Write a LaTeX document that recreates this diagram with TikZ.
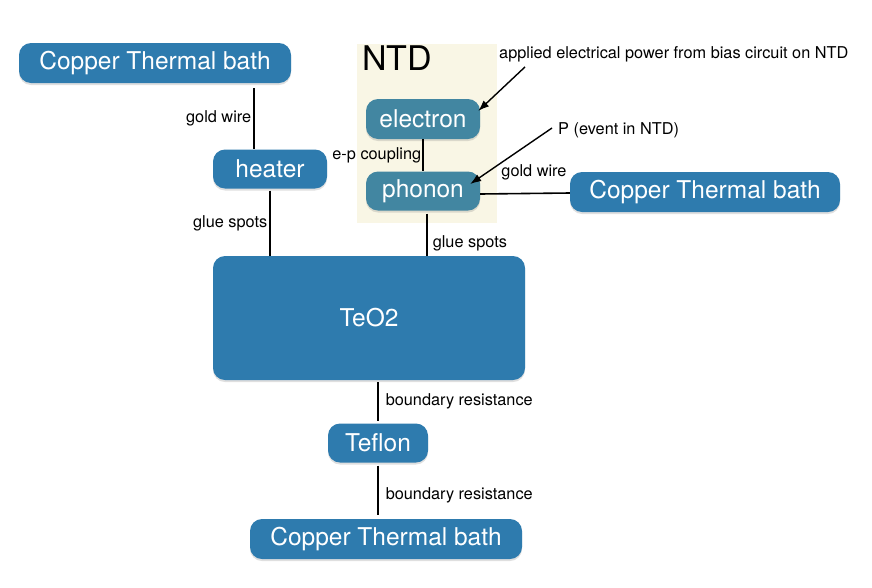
\documentclass[tikz,border=0pt]{standalone}
\usepackage{fontspec}
\setmainfont{TeX Gyre Heros}
\usepackage{tikz}
\usetikzlibrary{shadows,arrows.meta}
\definecolor{bathblue}{RGB}{46,123,174}
\definecolor{ntdblue}{RGB}{66,134,161}
\definecolor{ntdbg}{RGB}{249,246,229}
\tikzset{
    blk/.style={fill=bathblue, text=white, rounded corners=12pt, inner sep=0pt,
        minimum height=40pt, font=\fontsize{24.5}{26}\selectfont,
        drop shadow={shadow xshift=0pt, shadow yshift=-2pt, opacity=0.25}},
    ntdblk/.style={blk, fill=ntdblue, minimum width=114pt},
    lbl/.style={font=\fontsize{16.3}{18}\selectfont, inner sep=2pt},
    wire/.style={line width=1.6pt},
    feed/.style={line width=1.4pt, -{Latex[length=11pt,width=8pt]}}
}

\begin{document}
\begin{tikzpicture}[x=1pt,y=-1pt]
    \useasboundingbox (0,0) rectangle (872,587);
    \node[fill=ntdbg, minimum width=140pt, minimum height=179pt, inner sep=0pt] (ntd) at (427,133.5) {};
    \node[anchor=north west, inner sep=0pt, font=\fontsize{34}{36}\selectfont] (ntdname) at (362,46) {NTD};

    \node[blk, minimum width=272pt] (bathA) at (155,63) {Copper Thermal bath};
    \node[blk, minimum width=114pt, minimum height=39pt] (heater) at (270,169) {heater};
    \node[ntdblk] (electron) at (423,119) {electron};
    \node[ntdblk, minimum height=39pt] (phonon) at (423,191) {phonon};
    \node[blk, minimum width=270pt] (bathB) at (705,192) {Copper Thermal bath};
    \node[blk, minimum width=312pt, minimum height=124pt] (teo) at (369,318) {TeO2};
    \node[blk, minimum width=100pt, minimum height=39pt] (teflon) at (378,443) {Teflon};
    \node[blk, minimum width=272pt] (bathC) at (386,539) {Copper Thermal bath};

    \node[lbl, anchor=west] (pwr) at (497,54) {applied electrical power from bias circuit on NTD};
    \node[lbl, anchor=west] (ev) at (556,130) {P (event in NTD)};

    \draw[wire] ([xshift=99pt,yshift=-5pt]bathA.south) -- ([xshift=-16pt]heater.north)
        node[lbl, midway, left] {gold wire};
    \draw[wire] ([yshift=-2pt]heater.south) -- (heater.south |- teo.north)
        node[lbl, midway, left] {glue spots};
    \draw[wire] (electron.south) -- (phonon.north)
        node[lbl, midway, left, inner sep=1pt] {e-p coupling};
    \draw[wire] ([yshift=-3pt]phonon.east) -- ([yshift=-1pt]bathB.west)
        node[lbl, pos=0.6, above=11pt] {gold wire};
    \draw[wire] ([xshift=4pt,yshift=-3pt]phonon.south) -- ([xshift=4pt]phonon.south |- teo.north)
        node[lbl, pos=0.7, right=3pt] {glue spots};
    \draw[wire] ([yshift=-2pt]teo.south -| teflon.north) -- ([yshift=2pt]teflon.north)
        node[lbl, midway, right=5pt] {boundary resistance};
    \draw[wire] ([yshift=-3pt]teflon.south) -- ([yshift=4pt]teflon.south |- bathC.north)
        node[lbl, pos=0.6, right=5pt] {boundary resistance};

    \draw[feed] ([xshift=28pt,yshift=-3pt]pwr.south west) -- ([xshift=-2pt,yshift=8pt]electron.east);
    \draw[feed] ([xshift=-4pt,yshift=2pt]ev.west) -- ([xshift=-10pt,yshift=7pt]phonon.east);
\end{tikzpicture}
\end{document}
